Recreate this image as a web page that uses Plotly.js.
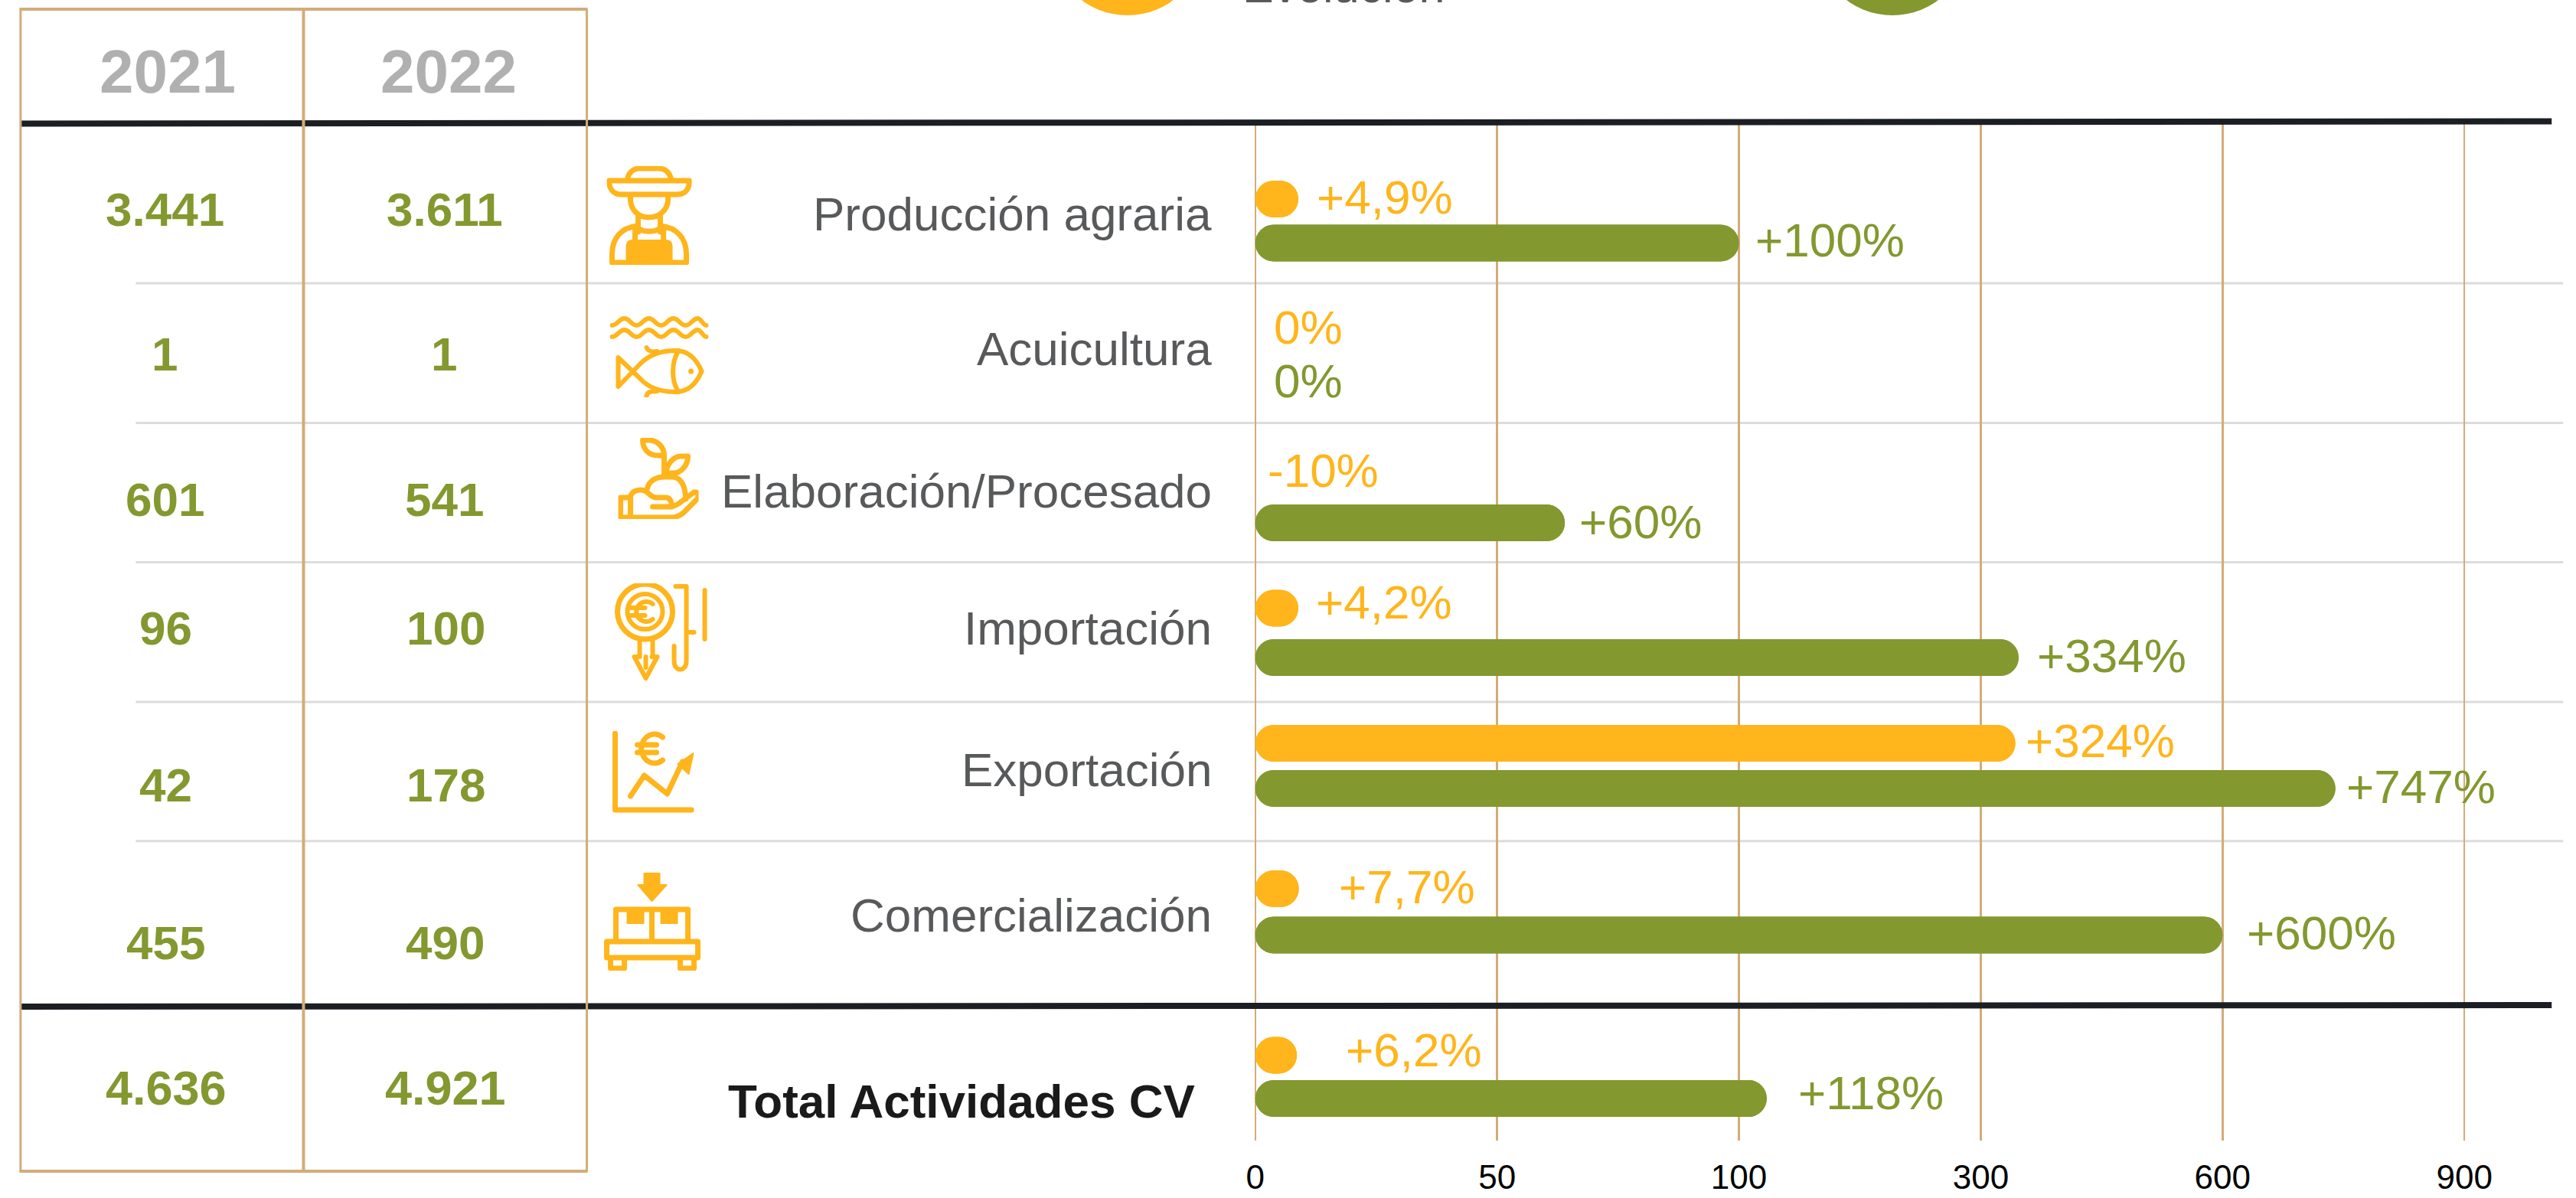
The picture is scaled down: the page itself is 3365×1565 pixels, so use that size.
<!DOCTYPE html>
<html>
<head>
<meta charset="utf-8">
<script src="https://cdn.plot.ly/plotly-3.0.1.min.js"></script>
<style>html,body{margin:0;padding:0;background:#fff;overflow:hidden}</style>
</head>
<body>
<div id="chart" style="width:3365px;height:1565px"></div>
<script>
// ---- data ----
const categories = ['Producción agraria','Acuicultura','Elaboración/Procesado','Importación','Exportación','Comercialización','Total Actividades CV'];
const years = ['2021','2022'];
const values2021 = ['3.441','1','601','96','42','455','4.636'];
const values2022 = ['3.611','1','541','100','178','490','4.921'];
const evolucionLabels = ['+4,9%','0%','-10%','+4,2%','+324%','+7,7%','+6,2%'];
const variacionLabels = ['+100%','0%','+60%','+334%','+747%','+600%','+118%'];
// bar lengths as read against the bottom axis (null = no bar drawn)
const evolucionBars = [8.9, null, null, 8.9, 343, 9, 8.6];
const variacionBars = [100, null, 64, 347, 740, 600, 123];
const axisValues = [0,50,100,300,600,900];
const legendLabels = ['Evolución'];

// ---- layout constants (reference pixels) ----
const W=3365,H=1565,PX0=1640,PXSTEP=315.8,PLOT_T=160,PLOT_B=1490,PAD=0.05;
const L=PX0-PAD*PXSTEP, R=PX0+(5+PAD)*PXSTEP;
const rowOrange=[260,null,null,794.5,971,1161,1378.5];
const rowGreen=[317.5,null,683,859,1030,1221.5,1435];
const catBase=[301,477,663,842,1027,1217,1460];
const numBase=[294.6,484,674,842,1047,1253,1443];
const col1=[216,216,216,217,217,217,218], col2=[581,580,581,583,583,582,582];
const orangeBase=[278.6,449,635.7,808,989,1180,1393];
const greenBase=[335,518.6,703,878,1049,1240,1449];
const orangeX=[1719,1663,1655,1718,2645,1748,1757];
const greenX=[2292,1663,2062,2660,3064,2934,2348];

const GREEN='#83982F',ORANGE='#FFB51B',TAN='#D2AC78',DARK='#1B1E23',GREY='#58595B',LIGHT='#DCDCDC',YEAR='#B0B0B0';
const FONT='"Liberation Sans", Arial, sans-serif';

// piecewise bottom axis: equally spaced ticks with different steps
function axisPos(v){
  for(let i=1;i<axisValues.length;i++){
    if(v<=axisValues[i]) return (i-1)+(v-axisValues[i-1])/(axisValues[i]-axisValues[i-1]);
  }
  return axisValues.length-1;
}
const xp=px=>(px-L)/(R-L);
const yp=py=>1-(py-PLOT_T)/(PLOT_B-PLOT_T);

function txt(text,x,base,size,color,anchor,bold){
  return {text:bold?'<b>'+text+'</b>':text,xref:'paper',yref:'paper',x:xp(x),y:yp(base-size*0.345),
    xanchor:anchor,yanchor:'middle',showarrow:false,borderpad:0,
    font:{family:FONT,size:size,color:color}};
}
function pairTraces(vals,rows,color){
  const idx=vals.map((v,i)=>v==null?-1:i).filter(i=>i>=0);
  const xs=idx.map(i=>axisPos(vals[i])), ys=idx.map(i=>rows[i]);
  const common={type:'bar',orientation:'h',y:ys,width:idx.map(()=>48),hoverinfo:'skip',showlegend:false,
    marker:{color:color,cornerradius:24,line:{width:0}}};
  return [
    Object.assign({},common,{x:xs,base:idx.map(()=>0)}),
    Object.assign({},common,{x:xs.map(v=>-v),base:xs})
  ];
}
const data=[...pairTraces(evolucionBars,rowOrange,ORANGE),...pairTraces(variacionBars,rowGreen,GREEN)];

// ---- annotations ----
const annotations=[];
categories.forEach((c,i)=>{
  const total=i===categories.length-1;
  annotations.push(txt(c,total?1562:1584,catBase[i],62,total?'#1A1A1A':GREY,'right',total));
  annotations.push(txt(values2021[i],col1[i],numBase[i],i===6?63:62,GREEN,'center',true));
  annotations.push(txt(values2022[i],col2[i],numBase[i],i===6?63:62,GREEN,'center',true));
  annotations.push(txt(evolucionLabels[i],orangeX[i],orangeBase[i],62,ORANGE,'left'));
  annotations.push(txt(variacionLabels[i],greenX[i],greenBase[i],62,GREEN,'left'));
});
annotations.push(txt(years[0],220,121,80,YEAR,'center',true));
annotations.push(txt(years[1],586,121,80,YEAR,'center',true));
annotations.push(txt(legendLabels[0],1622,3,61,GREY,'left'));

// ---- shapes ----
function pline(x0,y0,x1,y1,color,w,layer){
  return {type:'line',xref:'paper',yref:'paper',x0:xp(x0),y0:yp(y0),x1:xp(x1),y1:yp(y1),line:{color:color,width:w},layer:layer||'above'};
}
function circle(cx,cy,r,color){
  return {type:'circle',xref:'paper',yref:'paper',x0:xp(cx-r),x1:xp(cx+r),y0:yp(cy-r),y1:yp(cy+r),fillcolor:color,line:{width:0},layer:'above'};
}
const shapes=[
  circle(1473,-80,100,ORANGE), circle(2472,-80,100,GREEN),
  ...[370,552.5,734.6,917,1098.7].map(y=>pline(178,y,3348,y,LIGHT,3,'below')),
  pline(28,161.5,3333,158.5,DARK,8), pline(28,1315,3333,1313,DARK,8),
  pline(27.5,12,27.5,1530,TAN,3), pline(397,10,397,1530,TAN,4), pline(767,12,767,1530,TAN,3),
  pline(26,12,768,12,TAN,4), pline(26,1530,768,1530,TAN,4)
];

// ---- icons ----
const S=`fill="none" stroke="${ORANGE}" stroke-width="7" stroke-linecap="round" stroke-linejoin="round"`;
const S6=`fill="none" stroke="${ORANGE}" stroke-width="6" stroke-linecap="round" stroke-linejoin="round"`;
const F=`fill="${ORANGE}" stroke="${ORANGE}" stroke-width="2" stroke-linejoin="round"`;
function wave(y){return `M3 ${y+9} C10 ${y+9} 12 ${y} 19 ${y} C26 ${y} 28 ${y+9} 35 ${y+9} C42 ${y+9} 44 ${y} 51 ${y} C58 ${y} 60 ${y+9} 67 ${y+9} C74 ${y+9} 76 ${y} 83 ${y} C90 ${y} 92 ${y+9} 99 ${y+9} C106 ${y+9} 108 ${y} 115 ${y} C119 ${y} 122 ${y+9} 126 ${y+9}`;}
const icons=[
 {x:793,y:217,w:111,h:129,svg:`<path ${S} d="M3 19 H108 C108 30 102 37 92 37 H19 C9 37 3 30 3 19 Z M27 17 C29 7 36 3 43 3 H68 C75 3 82 7 84 17 M31 39 V45 C32 58 42 67 55 67 C68 67 79 58 80 45 V39 M41 66 V86 M70 66 V86 M41 80 C45 87 66 87 70 80 M41 78 C18 80 7 95 7 115 V126 H104 V115 C104 95 92 80 70 78 M37 82 V100 M74 82 V100"/><path ${F} d="M26 126 V105 C26 99 30 97 34 97 H77 C81 97 85 99 85 105 V126 Z"/>`},
 {x:797,y:413,w:129,h:106,svg:`<path ${S6} d="${wave(3)} ${wave(18)} M11 54 L40 82 C52 95 68 99 86 99 C104 99 114 86 120 72 C114 58 104 45 86 45 C68 45 52 50 40 62 L11 92 Z M90 45 C80 60 80 85 90 99 M48 41 C50 46 56 47 62 46 M48 104 C50 97 56 99 62 98"/><circle cx="106" cy="72" r="3.5" fill="${ORANGE}"/>`},
 {x:808,y:572,w:105,h:106,svg:`<path ${S} d="M32 3 H40 C52 3 60 13 60 23 H52 C40 23 32 15 32 3 Z M60 23 V51 M91 24 H82 C72 24 64 34 62 46 H72 C82 46 91 36 91 24 Z M38 66 C40 56 50 51 60 51 H70 C80 51 88 60 88 80 M3 78 H16 V104 H3 Z M16 76 C18 70 24 68 30 68 C40 68 40 78 50 78 H62 C68 78 70 84 70 90 H45 M16 104 H70 C76 104 80 102 85 98 L103 80 C106 76 104 70 99 71 L80 85 C76 88 72 90 66 90"/>`},
 {x:803,y:762,w:123,h:128,svg:`<circle ${S} cx="40" cy="37" r="36"/><circle ${S6} cx="40" cy="37" r="23"/><path ${S6} d="M50 27 A13 13 0 1 0 50 47 M22 32 H40 M22 42 H40 M33 76 V96 M50 76 V96 M33 96 H26 L41 124 L56 96 H49 M41 96 V110 M80 4 H94 V102 C94 116 78 116 78 102 V82 M94 64 H104 M118 9 V73"/>`},
 {x:800,y:955,w:107,h:107,svg:`<path ${S} d="M4 3 V103 H104 M66 8 C56 0 40 4 38 23 C40 42 56 46 66 38 M33 18 H58 M33 28 H58 M24 85 L42 58 L72 82 L92 40"/><path ${F} d="M106 29 L86 43 L100 56 Z"/>`},
 {x:789,y:1139,w:127,h:129,svg:`<path ${F} d="M53 2 H73 V17 H82 L63 38 L45 17 H53 Z M31 47 H52 V67 H31 Z M75 47 H96 V67 H75 Z"/><path ${S} d="M16 91 V49 H110 V91 M63 49 V91 M4 91 H123 V112 H4 Z M9 112 V126 H27 V112 M100 112 V126 H118 V112"/>`}
];
const images=icons.map(ic=>({
  source:'data:image/svg+xml;utf8,'+encodeURIComponent(`<svg xmlns="http://www.w3.org/2000/svg" width="${ic.w}" height="${ic.h}" viewBox="0 0 ${ic.w} ${ic.h}">${ic.svg}</svg>`),
  xref:'paper',yref:'paper',x:xp(ic.x),y:yp(ic.y),sizex:ic.w/(R-L),sizey:ic.h/(PLOT_B-PLOT_T),
  xanchor:'left',yanchor:'top',sizing:'stretch',layer:'above'
}));

const layout={
  width:W,height:H,autosize:false,showlegend:false,barmode:'overlay',
  paper_bgcolor:'#fff',plot_bgcolor:'rgba(0,0,0,0)',
  margin:{l:L,r:W-R,t:PLOT_T,b:H-PLOT_B,pad:0,autoexpand:false},
  xaxis:{range:[-PAD,5+PAD],tickmode:'array',tickvals:axisValues.map(axisPos),ticktext:axisValues.map(String),
    showgrid:true,gridcolor:TAN,gridwidth:2.5,zeroline:false,showline:false,
    ticks:'outside',ticklen:9,tickcolor:'rgba(0,0,0,0)',tickfont:{family:FONT,size:44,color:'#000'},fixedrange:true},
  yaxis:{range:[PLOT_B,PLOT_T],visible:false,fixedrange:true},
  font:{family:FONT},
  annotations,shapes,images
};
Plotly.newPlot('chart',data,layout,{displayModeBar:false,staticPlot:true});
</script>
</body>
</html>
